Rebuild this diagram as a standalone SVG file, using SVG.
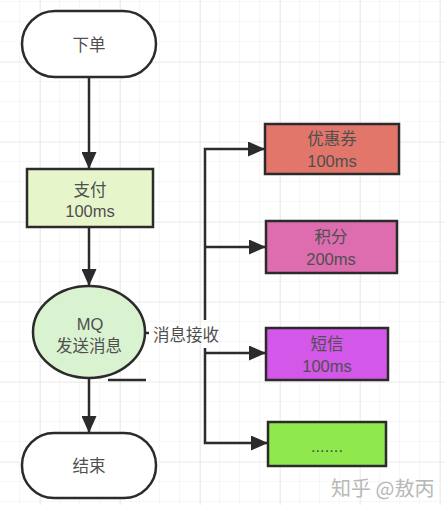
<svg xmlns="http://www.w3.org/2000/svg" width="445" height="505" viewBox="0 0 445 505">
  <defs>
    <pattern id="gridMinor" width="20" height="20" patternUnits="userSpaceOnUse" x="0" y="2">
      <path d="M20 0V20M0 20H20" fill="none" stroke="#efefef" stroke-width="1"/>
    </pattern>
    <pattern id="gridMajor" width="80" height="80" patternUnits="userSpaceOnUse" x="40" y="62">
      <path d="M0 0V80M0 0H80" fill="none" stroke="#e2e2e2" stroke-width="1.2"/>
    </pattern>
    <marker id="arrow" viewBox="0 0 17 15" refX="16" refY="7.5" markerWidth="17" markerHeight="15" markerUnits="userSpaceOnUse" orient="auto">
      <path d="M0 0L17 7.5L0 15Z" fill="#2b2b2b"/>
    </marker>
  </defs>
  <style>
    .node { stroke: #2b2b2b; stroke-width: 2.5; }
    .edge { fill: none; stroke: #2b2b2b; stroke-width: 2.5; }
    .label { font-family: "Liberation Sans", "Noto Sans CJK SC", sans-serif; font-size: 16.5px; fill: #4f4f4f; text-anchor: middle; }
    .mark { font-family: "Noto Sans CJK SC", sans-serif; font-size: 20px; fill: #b8b8b8; }
  </style>

  <!-- background grid -->
  <rect width="445" height="505" fill="#ffffff"/>
  <rect width="445" height="505" fill="url(#gridMinor)"/>
  <rect width="445" height="505" fill="url(#gridMajor)"/>

  <!-- connectors -->
  <g id="connectors">
    <line class="edge" x1="89" y1="77" x2="89" y2="168" marker-end="url(#arrow)"/>
    <line class="edge" x1="89" y1="228" x2="89" y2="285" marker-end="url(#arrow)"/>
    <line class="edge" x1="89" y1="379" x2="89" y2="432" marker-end="url(#arrow)"/>
    <line class="edge" x1="108" y1="380" x2="146" y2="380"/>
    <line class="edge" x1="145" y1="333" x2="149" y2="333"/>
    <polyline class="edge" points="205,320 205,149 264,149" marker-end="url(#arrow)"/>
    <line class="edge" x1="205" y1="247" x2="265" y2="247" marker-end="url(#arrow)"/>
    <polyline class="edge" points="205,348 205,443 267,443" marker-end="url(#arrow)"/>
    <line class="edge" x1="205" y1="353" x2="265" y2="353" marker-end="url(#arrow)"/>
    <text class="label" x="186" y="341">消息接收</text>
  </g>

  <g id="order">
    <rect class="node" x="22" y="11" width="134" height="66" rx="33" fill="#ffffff"/>
    <text class="label" x="89" y="51">下单</text>
  </g>

  <g id="pay">
    <rect class="node" x="27" y="169" width="126" height="58" fill="#e7f5cb"/>
    <text class="label" x="90" y="196">支付</text>
    <text class="label" x="90" y="217">100ms</text>
  </g>

  <g id="mq">
    <ellipse class="node" cx="89" cy="332" rx="56" ry="46" fill="#d9f3d1"/>
    <text class="label" x="90" y="330">MQ</text>
    <text class="label" x="89" y="352">发送消息</text>
  </g>

  <g id="end">
    <rect class="node" x="22" y="433" width="134" height="65" rx="32" fill="#ffffff"/>
    <text class="label" x="89" y="472">结束</text>
  </g>

  <g id="coupon">
    <rect class="node" x="265" y="124" width="134" height="50" fill="#e2766b"/>
    <text class="label" x="332" y="145">优惠券</text>
    <text class="label" x="332" y="167">100ms</text>
  </g>

  <g id="points">
    <rect class="node" x="266" y="221" width="131" height="52" fill="#de6daf"/>
    <text class="label" x="331" y="243">积分</text>
    <text class="label" x="331" y="265">200ms</text>
  </g>

  <g id="sms">
    <rect class="node" x="266" y="328" width="122" height="52" fill="#d357e8"/>
    <text class="label" x="327" y="350">短信</text>
    <text class="label" x="327" y="372">100ms</text>
  </g>

  <g id="more">
    <rect class="node" x="268" y="422" width="118" height="44" fill="#8fe94d"/>
    <text class="label" x="327" y="452">.......</text>
  </g>

  <text class="mark" x="331" y="496">知乎 @敖丙</text>
</svg>
